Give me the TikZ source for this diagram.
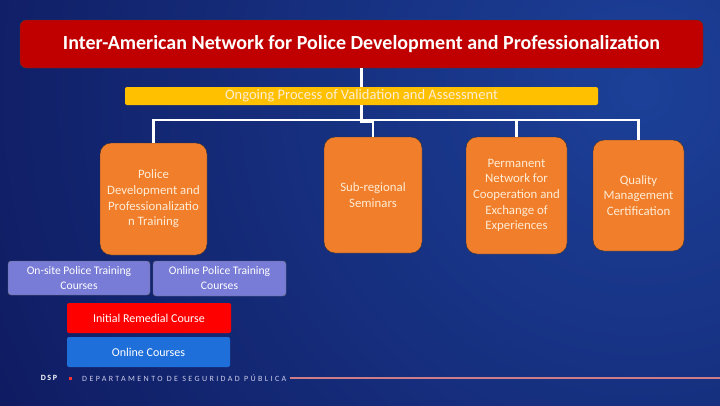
\documentclass[tikz,border=0pt]{standalone}
\usepackage{fontspec}
\setmainfont{Carlito}
\usepackage{tikz}
\usetikzlibrary{positioning,calc}
\definecolor{bgdark}{RGB}{10,13,76}
\definecolor{bglight}{RGB}{28,64,152}
\definecolor{hdred}{RGB}{192,0,0}
\definecolor{baryel}{RGB}{255,192,0}
\definecolor{boxorg}{RGB}{240,126,42}
\definecolor{boxtxt}{RGB}{255,236,214}
\definecolor{lavbox}{RGB}{120,124,214}
\definecolor{crsred}{RGB}{255,0,0}
\definecolor{crsblue}{RGB}{30,111,217}
\definecolor{footline}{RGB}{205,125,135}
\definecolor{foottxt}{RGB}{205,205,235}
\tikzset{
  head/.style  ={draw=black!75,fill=hdred,rounded corners=6pt,text=white,font=\fontsize{20}{24}\selectfont\bfseries,inner sep=0pt},
  bar/.style   ={fill=baryel,rounded corners=2pt,text=boxtxt,font=\fontsize{14.5}{16}\selectfont,inner sep=0pt},
  org/.style   ={draw=black!80,fill=boxorg,rounded corners=11pt,text=boxtxt,align=center,inner sep=0pt,font=\fontsize{12.8}{15.7}\selectfont},
  lav/.style   ={draw=black!60,fill=lavbox,rounded corners=3pt,text=white,align=center,inner sep=0pt,font=\fontsize{11.6}{15}\selectfont},
  crs/.style   ={rounded corners=2pt,text=white,inner sep=0pt,font=\fontsize{12}{14}\selectfont},
  wire/.style  ={draw=white,line width=2.2pt},
}
\begin{document}
\begin{tikzpicture}[x=1pt,y=-1pt]
  \useasboundingbox (0,0) rectangle (720,405);
  % background
  \begin{scope}
    \clip (0,0) rectangle (720,405);
    \shade[inner color=bglight,outer color=bgdark] (640,90) circle (1000);
  \end{scope}
  % title and bar
  \node[head,minimum width=683,minimum height=48] (net) at (361.5,44) {Inter-American Network for Police Development and Professionalization};
  \node[bar,minimum width=473,minimum height=18] (val) at (361.5,96) {Ongoing Process of Validation and Assessment};
  % main boxes
  \node[org,minimum width=107,minimum height=112] (train) at (153.5,199) {Police\\Development and\\Professionalizatio\\n Training};
  \node[org,minimum width=98,minimum height=116] (semi) at (373,195) {Sub-regional\\Seminars};
  \node[org,minimum width=101,minimum height=117] (perm) at (516.5,195.5) {Permanent\\Network for\\Cooperation and\\Exchange of\\Experiences};
  \node[org,minimum width=91,minimum height=111] (qual) at (638.5,195.5) {Quality\\Management\\Certification};
  % training courses
  \node[lav,minimum width=142,minimum height=34] (onsite) at (79,278) {On-site Police Training\\Courses};
  \node[lav,minimum width=133,minimum height=35] (online) at (219.5,278.5) {Online Police Training\\Courses};
  \node[crs,fill=crsred,minimum width=164,minimum height=30] (remed) at (149,318) {Initial Remedial Course};
  \node[crs,fill=crsblue,minimum width=163,minimum height=30] (oncrs) at (148.5,352) {Online Courses};
  % connectors
  \coordinate (hub) at (361.5,122);
  \coordinate (lft) at (train.north |- 0,120);
  \coordinate (rgt) at (qual.north |- 0,120);
  \draw[wire] (net.south) -- (val.north);
  \draw[wire] (val.south) -- (hub) -| (semi.north);
  \draw[wire] (train.north) -- (lft) -- (rgt) -- (qual.north);
  \draw[wire] (perm.north) -- (perm.north |- rgt);
  % footer
  \node[text=white,font=\fontsize{8}{9}\selectfont\bfseries\addfontfeatures{LetterSpace=20}] (dsp) at (49,378) {DSP};
  \node[fill=crsred!80,minimum size=3pt,inner sep=0pt] (dot) at (70,378) {};
  \node[text=foottxt,anchor=west,inner sep=0pt,font=\fontsize{8}{9}\selectfont\addfontfeatures{LetterSpace=30}] (dept) at (82,378) {DEPARTAMENTO DE SEGURIDAD PÚBLICA};
  \coordinate (fend) at (720,378);
  \draw[footline,line width=1.8pt] (dept.east) ++(3,0) -- (fend);
\end{tikzpicture}
\end{document}
